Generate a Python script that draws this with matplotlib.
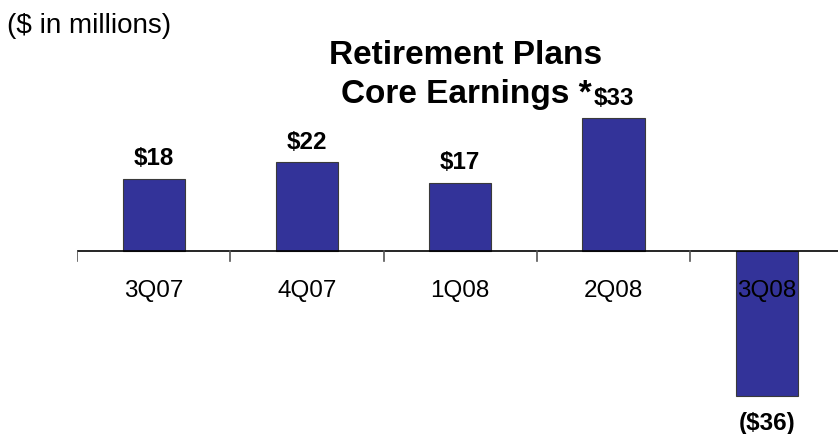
import matplotlib
matplotlib.use("Agg")
import matplotlib.pyplot as plt

plt.rcParams['font.family'] = ['Liberation Sans', 'DejaVu Sans']

quarters = ["3Q07", "4Q07", "1Q08", "2Q08", "3Q08"]
earnings = [18, 22, 17, 33, -36]
value_labels = ["$18", "$22", "$17", "$33", "($36)"]

fig = plt.figure(figsize=(8.38, 4.34), dpi=100)
# axes spans from the first tick to the right edge of the figure
ax = fig.add_axes([77 / 838, 14 / 434, 1 - 77 / 838, 320 / 434])

x = range(len(quarters))
ax.bar(x, earnings, width=0.405, color="#333399", edgecolor="#3a3a3a", linewidth=0.8, zorder=2)

ax.set_xlim(-0.5, (838 - 154) / 153.2)
ax.set_ylim(-41.9, 37.5)

# category axis drawn at zero with ticks between groups
ax.axhline(0, color="black", linewidth=1.2, zorder=3)
for b in [i - 0.5 for i in range(len(quarters) + 1)]:
    ax.plot([b, b], [0, -2.4], color="#555555", linewidth=1.2, zorder=3)

for i, q in enumerate(quarters):
    ax.text(i, -9.9, q, ha="center", va="center", fontsize=17.5, zorder=4)

for i, (v, lab) in enumerate(zip(earnings, value_labels)):
    if v >= 0:
        ax.text(i, v + 4.9, lab, ha="center", va="center", fontsize=17.5, fontweight="bold")
    else:
        ax.text(i, v - 6.8, lab, ha="center", va="center", fontsize=17.5, fontweight="bold")

ax.axis("off")

fig.text(466 / 838, 1 - 56 / 434, "Retirement Plans", ha="center", va="center", fontsize=24, fontweight="bold")
fig.text(466 / 838, 1 - 94 / 434, "Core Earnings *", ha="center", va="center", fontsize=24, fontweight="bold")
fig.text(7 / 838, 1 - 26 / 434, "($ in millions)", ha="left", va="center", fontsize=20)

fig.savefig("out.png", dpi=100)
